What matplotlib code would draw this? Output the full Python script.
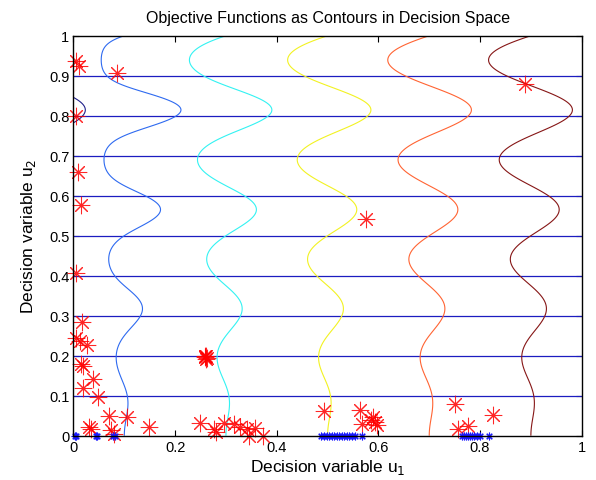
import numpy as np
import matplotlib
matplotlib.use("Agg")
import matplotlib.pyplot as plt

plt.rcParams['font.family'] = ['Liberation Sans', 'DejaVu Sans']

# contour levels of the wavy objective (value of u1 where each contour meets u2 = 0)
f2_levels = [0.1, 0.3, 0.5, 0.7, 0.9]
f2_colors = ['#2e6af0', '#33f2f2', '#f2f222', '#ff6433', '#861616']
f2_low_level = -0.054          # dark blue contour that only peeks in near u1 = 0
f2_low_color = '#20208a'
wave_amp = 0.095
wave_skew = 0.11

# contour levels of the other objective (horizontal lines)
f1_levels = [0.1, 0.2, 0.3, 0.4, 0.5, 0.6, 0.7, 0.8, 0.9]

# population (red) and pareto samples (blue)
red_u1 = [0.004, 0.011, 0.085, 0.004, 0.009, 0.015, 0.005, 0.017, 0.005, 0.012,
          0.026, 0.014, 0.019, 0.039, 0.018, 0.049, 0.070, 0.105, 0.030, 0.034,
          0.074, 0.080, 0.148,
          0.258, 0.260, 0.262, 0.259, 0.261,
          0.249, 0.277, 0.281, 0.297, 0.315, 0.328, 0.341, 0.357, 0.346, 0.373,
          0.492, 0.564, 0.568, 0.590, 0.594, 0.598, 0.586,
          0.576, 0.889,
          0.751, 0.757, 0.777, 0.825]
red_u2 = [0.937, 0.925, 0.908, 0.800, 0.660, 0.578, 0.407, 0.285, 0.245, 0.237,
          0.226, 0.179, 0.175, 0.142, 0.118, 0.096, 0.050, 0.046, 0.021, 0.016,
          0.014, 0.003, 0.021,
          0.196, 0.198, 0.194, 0.200, 0.192,
          0.031, 0.016, 0.010, 0.032, 0.030, 0.021, 0.017, 0.018, 0.000, 0.000,
          0.062, 0.065, 0.028, 0.047, 0.035, 0.027, 0.040,
          0.542, 0.879,
          0.078, 0.016, 0.024, 0.052]

blue_u1 = [0.003, 0.005, 0.044, 0.047, 0.078, 0.082,
           0.488, 0.493, 0.498, 0.503, 0.508, 0.513, 0.518, 0.523, 0.528, 0.533,
           0.538, 0.543, 0.548, 0.553, 0.567,
           0.764, 0.768, 0.772, 0.776, 0.780, 0.784, 0.789, 0.794, 0.800, 0.818]
blue_u2 = [0.0] * len(blue_u1)

# objective fields on a grid of the decision space
u1 = np.linspace(-0.2, 1.05, 700)
u2 = np.linspace(0, 1, 600)
U1, U2 = np.meshgrid(u1, u2)
T = U2 * np.sin(8 * np.pi * U2)
W = U1 - wave_amp * T
F2 = W * np.abs(W) - (wave_skew * T) ** 2

fig = plt.figure(figsize=(5.96, 4.81), dpi=100)
ax = fig.add_axes([0.1233, 0.0921, 0.8527, 0.8316])

ax.contour(U1, U2, U2, levels=f1_levels, colors='#1c1cc0', linewidths=0.9)
ax.contour(U1, U2, F2, levels=[v ** 2 for v in f2_levels], colors=f2_colors, linewidths=0.8)
ax.contour(U1, U2, W, levels=[f2_low_level], colors=f2_low_color, linewidths=0.8,
           linestyles='solid')

ax.plot(red_u1, red_u2, linestyle='none', marker=(8, 2, 0), markersize=12.5,
        markeredgewidth=0.75, color='red', alpha=0.85, clip_on=False)
ax.plot(blue_u1, blue_u2, linestyle='none', marker=(8, 2, 0), markersize=5.5,
        markeredgewidth=0.8, color='#1a1aff', clip_on=False)

ax.set_xlim(0, 1)
ax.set_ylim(0, 1)
ax.set_xticks([0, 0.2, 0.4, 0.6, 0.8, 1])
ax.set_xticklabels(['0', '0.2', '0.4', '0.6', '0.8', '1'])
ax.set_yticks(np.round(np.arange(0, 1.01, 0.1), 1))
ax.set_yticklabels(['0', '0.1', '0.2', '0.3', '0.4', '0.5', '0.6', '0.7', '0.8', '0.9', '1'])
ax.tick_params(direction='in', top=True, right=True, length=4, width=0.8, labelsize=10.5, pad=3)
for sp in ax.spines.values():
    sp.set_linewidth(1.0)

ax.set_title('Objective Functions as Contours in Decision Space', fontsize=11.5, pad=10)
ax.set_xlabel('Decision variable u$_1$', fontsize=12.5, labelpad=2)
ax.set_ylabel('Decision variable u$_2$', fontsize=12.5, labelpad=8)

fig.savefig('out.png', dpi=100)
